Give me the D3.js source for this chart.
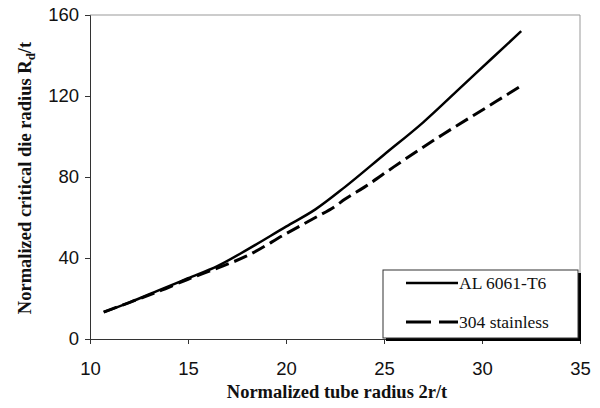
<!DOCTYPE html>
<html>
<head>
<meta charset="utf-8">
<script src="https://cdn.jsdelivr.net/npm/d3@7"></script>
<style>
  body { margin: 0; background: #fff; }
  svg { display: block; }
  .tick text { font-family: "Liberation Sans", Arial, sans-serif; font-size: 18.5px; fill: #111; }
  .lbl { font-family: "Liberation Serif", "Times New Roman", serif; font-weight: bold; font-size: 18.5px; fill: #111; }
  .leg { font-family: "Liberation Serif", "Times New Roman", serif; font-size: 17.5px; fill: #111; }
</style>
</head>
<body>
<svg id="chart" width="600" height="408"></svg>
<script>
// series
const alX = [10.7, 12, 13.5, 15, 16.5, 18, 20, 21.5, 23, 25, 27, 29, 30.5, 32];
const alY = [13.3, 18, 24, 30, 36, 44, 55.5, 64, 75, 91, 107, 125, 138.5, 152];
const ssX = [10.7, 12, 13.5, 15, 16.5, 18, 20, 21.5, 22.5, 23, 24, 25.5, 28, 30, 32];
const ssY = [13.3, 18, 23.5, 29.5, 35, 41, 52, 60, 65.5, 69, 75, 85, 101, 113, 125];
const xTicks = [10, 15, 20, 25, 30, 35];
const yTicks = [0, 40, 80, 120, 160];
const seriesNames = ['AL 6061-T6', '304 stainless'];

const svg = d3.select('#chart');
const mLeft = 90, mRight = 580, mTop = 15, mBottom = 339;

const x = d3.scaleLinear().domain([10, 35]).range([mLeft, mRight]);
const y = d3.scaleLinear().domain([0, 160]).range([mBottom, mTop]);

// frame (top and right are faint in the original)
svg.append('line').attr('x1', mLeft).attr('x2', mRight).attr('y1', mTop).attr('y2', mTop)
    .attr('stroke', '#999').attr('stroke-width', 1);
svg.append('line').attr('x1', mRight).attr('x2', mRight).attr('y1', mTop).attr('y2', mBottom)
    .attr('stroke', '#999').attr('stroke-width', 1);

svg.append('g').attr('transform', `translate(0,${mBottom})`)
    .call(d3.axisBottom(x).tickValues(xTicks).tickSize(5).tickPadding(18))
    .call(g => g.select('.domain').attr('stroke', '#333'))
    .call(g => g.selectAll('.tick line').attr('stroke', '#333'));

svg.append('g').attr('transform', `translate(${mLeft},0)`)
    .call(d3.axisLeft(y).tickValues(yTicks).tickSize(5).tickPadding(6))
    .call(g => g.select('.domain').attr('stroke', '#333'))
    .call(g => g.selectAll('.tick line').attr('stroke', '#333'));

const line = d3.line().x(d => x(d[0])).y(d => y(d[1])).curve(d3.curveMonotoneX);

svg.append('path')
    .datum(ssX.map((v, i) => [v, ssY[i]]))
    .attr('d', line).attr('fill', 'none')
    .attr('stroke', '#000').attr('stroke-width', 3)
    .attr('stroke-dasharray', '14,6');

svg.append('path')
    .datum(alX.map((v, i) => [v, alY[i]]))
    .attr('d', line).attr('fill', 'none')
    .attr('stroke', '#000').attr('stroke-width', 2.5);

// legend
const lg = svg.append('g');
lg.append('rect').attr('x', 386).attr('y', 273).attr('width', 195).attr('height', 68).attr('fill', '#000');
lg.append('rect').attr('x', 383).attr('y', 270).attr('width', 195).attr('height', 68)
    .attr('fill', '#fff').attr('stroke', '#333').attr('stroke-width', 1);
lg.append('line').attr('x1', 406).attr('x2', 458).attr('y1', 283).attr('y2', 283)
    .attr('stroke', '#000').attr('stroke-width', 2.5);
lg.append('line').attr('x1', 406).attr('x2', 458).attr('y1', 322).attr('y2', 322)
    .attr('stroke', '#000').attr('stroke-width', 3).attr('stroke-dasharray', '25,8');
lg.append('text').attr('class', 'leg').attr('x', 459).attr('y', 289).text(seriesNames[0]);
lg.append('text').attr('class', 'leg').attr('x', 459).attr('y', 328).text(seriesNames[1]);

// axis titles
svg.append('text').attr('class', 'lbl').attr('x', 337).attr('y', 398)
    .attr('text-anchor', 'middle').text('Normalized tube radius 2r/t');

const yl = svg.append('text').attr('class', 'lbl')
    .attr('transform', 'translate(31,178) rotate(-90)').attr('text-anchor', 'middle');
yl.append('tspan').text('Normalized critical die radius R');
yl.append('tspan').attr('dy', 4).attr('font-size', 13).text('d');
yl.append('tspan').attr('dy', -4).text('/t');
</script>
</body>
</html>
